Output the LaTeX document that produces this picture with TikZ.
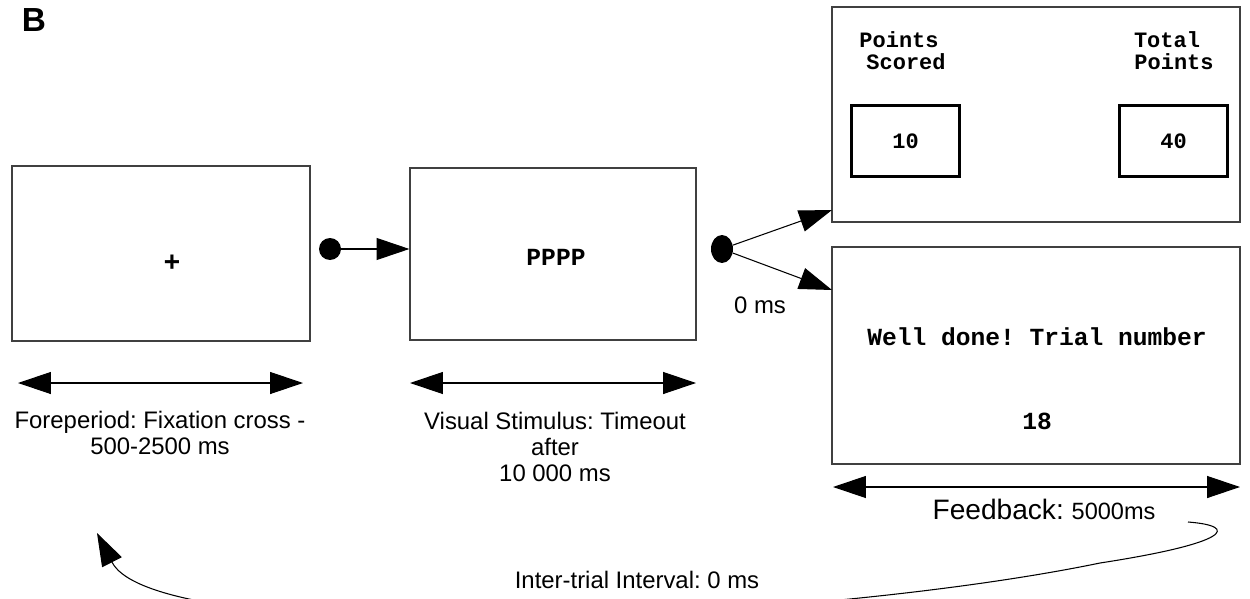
\documentclass[tikz,border=0pt]{standalone}
\usepackage{fontspec}
\setmainfont{Liberation Sans}
\newfontfamily\monof{Liberation Mono}
\usetikzlibrary{arrows.meta,shapes.geometric}
\frenchspacing
\begin{document}
\begin{tikzpicture}[x=0.02cm,y=-0.02cm,
  frame/.style={draw=black!75,line width=0.7pt,inner sep=0pt},
  innerbox/.style={draw=black,line width=1.7pt,inner sep=0pt,minimum width=2.16cm,minimum height=1.42cm,
     font=\monof\bfseries\fontsize{12.5}{14}\selectfont},
  mono/.style={font=\monof\bfseries\fontsize{12.5}{14}\selectfont,inner sep=0pt},
  monobig/.style={font=\monof\bfseries\fontsize{14}{16}\selectfont,inner sep=0pt},
  lbl/.style={font=\fontsize{13.6}{15}\selectfont,align=center,inner sep=0pt},
  conn/.style={line width=0.6pt,-{Triangle[length=18.7pt,width=12.5pt]}},
  dbl/.style={line width=0.6pt,{Triangle[length=18.7pt,width=12.5pt]}-{Triangle[length=18.7pt,width=12.5pt]}},
  dot/.style={fill=black,draw=none,inner sep=0pt}]
\useasboundingbox (0,0) rectangle (1250,598);
\clip (0,0) rectangle (1250,598);

\node[font=\bfseries\fontsize{19}{22}\selectfont,inner sep=0pt] (B) at (34,20) {B};

% boxes
\node[frame,minimum width=5.96cm,minimum height=3.5cm] (box1) at (161,253.5) {};
\node[frame,minimum width=5.72cm,minimum height=3.44cm] (box2) at (553,254) {};
\node[frame,minimum width=8.16cm,minimum height=4.3cm] (box3) at (1036,114.5) {};
\node[frame,minimum width=8.16cm,minimum height=4.34cm] (box4) at (1036,355.5) {};

\node[font=\monof\bfseries\fontsize{16}{18}\selectfont,inner sep=0pt] (plus) at (172,263) {+};
\node[monobig] (pppp) at (556,257) {PPPP};

\node[mono] (ps1) at (899,40) {Points};
\node[mono] (ps2) at (906,62) {Scored};
\node[mono] (tp1) at (1167,40) {Total};
\node[mono] (tp2) at (1174,62) {Points};
\node[innerbox] (sc) at (905.5,141) {10};
\node[innerbox] (tot) at (1173.5,141) {40};

\node[monobig] (well) at (1037,337) {Well done! Trial number};
\node[monobig] (num) at (1037,421) {18};

% connectors
\node[dot,circle,minimum size=0.44cm] (dot1) at (330,249) {};
\draw[conn] (dot1) -- (dot1 -| box2.west);

\node[dot,ellipse,minimum width=0.44cm,minimum height=0.56cm] (dot2) at (722,249) {};
\coordinate (t1) at (832,210);
\coordinate (t2) at (832,290);
\draw[conn] (dot2) -- (t1);
\draw[conn] (dot2) -- (t2);
\node[lbl] (zero) at (760,305) {0 ms};

% duration arrows
\coordinate (a1) at (18,383); \coordinate (b1) at (303,383);
\coordinate (a2) at (410,383); \coordinate (b2) at (696,383);
\coordinate (a3) at (833,487); \coordinate (b3) at (1240,487);
\draw[dbl] (a1) -- (b1);
\draw[dbl] (a2) -- (b2);
\draw[dbl] (a3) -- (b3);

\node[lbl] (l1) at (160,433) {Foreperiod: Fixation cross -\\500-2500 ms};
\node[lbl] (l2) at (555,447) {Visual Stimulus: Timeout\\after\\10 000 ms};
\node[inner sep=0pt] (l3) at (1044,509) {\fontsize{16}{18}\selectfont Feedback: \fontsize{13.4}{15}\selectfont 5000ms};

% inter-trial curve
\coordinate (cs) at (1188,522);
\coordinate (cm) at (1100,563);
\coordinate (ce) at (97,533);
\draw[conn] (cs) .. controls (1240,526) and (1230,543) .. (cm)
   .. controls (800,625) and (157,650) .. (ce);
\node[lbl] (iti) at (637,580) {Inter-trial Interval: 0 ms};
\end{tikzpicture}
\end{document}
